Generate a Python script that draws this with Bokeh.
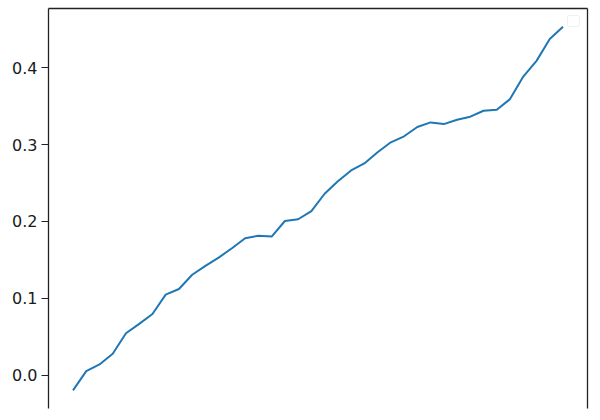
from bokeh.plotting import figure
from bokeh.models import (LinearAxis, FixedTicker, PrintfTickFormatter, Range1d,
                          BoxAnnotation, ColumnDataSource)
from bokeh.embed import file_html
from bokeh.resources import INLINE

# data
x_index = list(range(38))
y_values = [-0.0198, 0.0052, 0.0139, 0.0278, 0.0545, 0.0667, 0.0796, 0.1047,
            0.1121, 0.1306, 0.1423, 0.1530, 0.1652, 0.1782, 0.1815, 0.1803,
            0.2006, 0.2029, 0.2136, 0.2361, 0.2525, 0.2664, 0.2755, 0.2901,
            0.3031, 0.3109, 0.3230, 0.3290, 0.3268, 0.3325, 0.3364, 0.3442,
            0.3455, 0.3593, 0.3887, 0.4091, 0.4376, 0.4536]
y_ticks = [0.0, 0.1, 0.2, 0.3, 0.4]

FONT = "DejaVu Sans"

# matplotlib-like 5% margins
xmin, xmax = min(x_index), max(x_index)
ymin, ymax = min(y_values), max(y_values)
xpad = 0.05 * (xmax - xmin)
ypad = 0.05 * (ymax - ymin)

FRAME_W, FRAME_H = 539, 400

p = figure(frame_width=FRAME_W, frame_height=FRAME_H,
           x_range=Range1d(xmin - xpad, xmax + xpad),
           y_range=Range1d(ymin - ypad, ymax + ypad),
           output_backend="svg", toolbar_location=None,
           min_border_left=48, min_border_right=5,
           min_border_top=8, min_border_bottom=4)

p.outline_line_color = None
p.grid.visible = False
p.xaxis.visible = False
p.background_fill_color = "white"
p.border_fill_color = "white"

src = ColumnDataSource(dict(x=x_index, y=y_values))
p.line("x", "y", source=src, line_color="#1f77b4", line_width=2)

ya = p.yaxis[0]
ya.ticker = FixedTicker(ticks=y_ticks)
ya.formatter = PrintfTickFormatter(format="%.1f")
ya.minor_tick_line_color = None
ya.major_tick_in = 0
ya.major_tick_out = 7
ya.major_tick_line_color = "#222222"
ya.axis_line_color = "#222222"
ya.axis_line_width = 1.3
ya.major_label_standoff = 4
ya.major_label_text_font = FONT
ya.major_label_text_font_size = "16px"
ya.major_label_text_color = "#1a1a1a"

def spine():
    ax = LinearAxis(ticker=FixedTicker(ticks=[]))
    ax.major_tick_line_color = None
    ax.minor_tick_line_color = None
    ax.major_label_text_font_size = "0px"
    ax.major_label_standoff = 0
    ax.axis_line_color = "#222222"
    ax.axis_line_width = 1.3
    return ax

p.add_layout(spine(), "above")
p.add_layout(spine(), "right")

# empty legend frame (top right), like matplotlib's empty legend
legend_box = BoxAnnotation(left=FRAME_W - 20, right=FRAME_W - 8,
                           top=FRAME_H - 7, bottom=FRAME_H - 18,
                           left_units="screen", right_units="screen",
                           top_units="screen", bottom_units="screen",
                           fill_color="white", fill_alpha=0.8,
                           line_color="#cccccc", line_width=1,
                           border_radius=2)
p.add_layout(legend_box)

open("out.html", "w").write(file_html(p, INLINE))
